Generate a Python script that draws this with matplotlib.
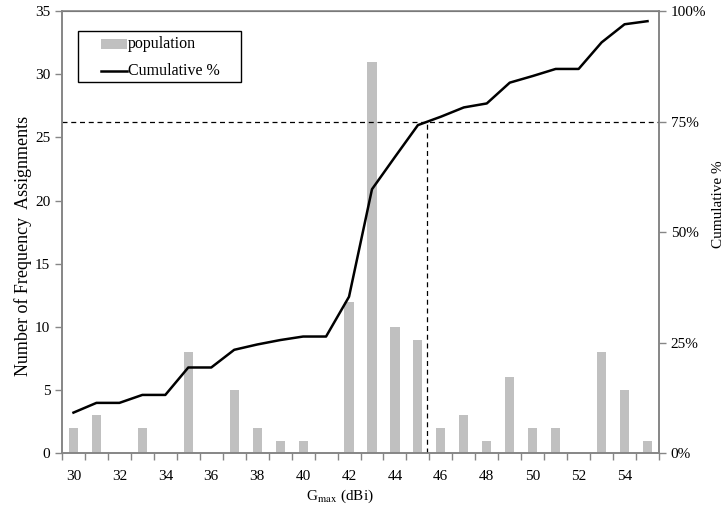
import matplotlib
matplotlib.use("Agg")
import matplotlib.pyplot as plt
import numpy as np
from matplotlib.ticker import FixedLocator, FuncFormatter
from matplotlib.patches import Rectangle
from matplotlib.lines import Line2D

plt.rcParams['font.family'] = ['Liberation Serif', 'DejaVu Serif']
plt.rcParams['mathtext.fontset'] = 'stix'

gain = list(range(30, 56))
population = [2, 3, 0, 2, 0, 8, 0, 5, 2, 1, 1, 0, 12, 31, 10, 9, 2, 3, 1, 6, 2, 2, 0, 8, 5, 1]
cumulative = [9.2, 11.4, 11.4, 13.2, 13.2, 19.4, 19.4, 23.4, 24.6, 25.6, 26.4, 26.4, 35.4,
              59.7, 67.0, 74.2, 76.1, 78.2, 79.1, 83.8, 85.3, 86.9, 86.9, 92.9, 97.0, 97.7]
xtick_labels = [str(g) for g in range(30, 56, 2)]
legend_labels = ['population', 'Cumulative %']
threshold_pct = 75
threshold_gain = 45.4

W, H = 727, 514
fig = plt.figure(figsize=(W/100, H/100), dpi=100)
ax = fig.add_axes([62/W, 1-453.3/H, (659-62)/W, (453.3-11)/H])
ax2 = ax.twinx()

axc = '#868686'
fs = 11

ax.bar(gain, population, width=0.4, color='#C0C0C0', zorder=2)
ax.set_ylim(0, 35)
ax.set_xlim(29.5, 55.5)
ax.set_yticks(np.arange(0, 36, 5))
ax.xaxis.set_major_locator(FixedLocator(np.arange(29.5, 56, 1)))
ax.set_xticklabels([])
for g, lab in zip(range(30, 56, 2), xtick_labels):
    ax.text(g, -0.037, lab, transform=ax.get_xaxis_transform(), ha='center', va='top', fontsize=fs)

ax2.plot(gain, np.array(cumulative)/100, color='black', lw=1.8, zorder=3)
ax2.set_ylim(0, 1)
ax2.set_yticks([0, 0.25, 0.5, 0.75, 1.0])
ax2.yaxis.set_major_formatter(FuncFormatter(lambda v, p: f"{int(round(v*100))}%"))

# dashed guide lines
ax2.plot([29.5, 55.5], [threshold_pct/100]*2, color='black', lw=0.9, ls=(0, (4, 3)), zorder=1)
ax2.plot([threshold_gain]*2, [0, threshold_pct/100], color='black', lw=0.9, ls=(0, (4, 3)), zorder=1)

for a in (ax, ax2):
    for s in a.spines.values():
        s.set_color(axc)
        s.set_linewidth(1.2)
    a.tick_params(axis='both', colors=axc, labelcolor='black', labelsize=fs, direction='out', length=5, width=1)
ax.spines['top'].set_color('#444444')
ax.spines['top'].set_linewidth(0.8)

fig.text(23/W, 1-246/H, 'Number of Frequency  Assignments', rotation=90, ha='center', va='center', fontsize=13)
fig.text(719/W, 1-204/H, 'Cumulative %', rotation=90, ha='center', va='center', fontsize=fs)
fig.text(340/W, 1-496/H, r'G$_{\mathrm{max}}$ (dBi)', ha='center', va='center', fontsize=fs)

# legend drawn manually in figure pixel coordinates
def fx(x): return x / W
def fy(y): return 1 - y / H
box = Rectangle((fx(78.3), fy(81.7)), fx(240.7) - fx(78.3), fy(30.7) - fy(81.7),
                transform=fig.transFigure, facecolor='white', edgecolor='black', lw=1.0, zorder=10)
fig.add_artist(box)
patch = Rectangle((fx(101), fy(49.3)), fx(127) - fx(101), fy(39.3) - fy(49.3),
                  transform=fig.transFigure, facecolor='#C0C0C0', edgecolor='none', zorder=11)
fig.add_artist(patch)
fig.add_artist(Line2D([fx(101), fx(127)], [fy(71), fy(71)], transform=fig.transFigure,
                      color='black', lw=1.8, zorder=11))
fig.text(fx(128), fy(44.5), legend_labels[0], ha='left', va='center', fontsize=11.5, zorder=12)
fig.text(fx(128), fy(71), legend_labels[1], ha='left', va='center', fontsize=11.5, zorder=12)

fig.savefig('out.png', dpi=100)
